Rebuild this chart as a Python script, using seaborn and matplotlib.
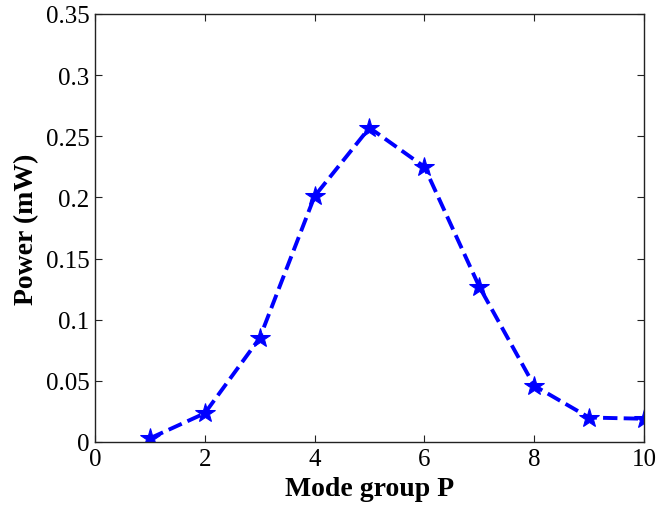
import pandas as pd
import numpy as np
import seaborn as sns
import matplotlib.pyplot as plt

# data
mode_group = [1, 2, 3, 4, 5, 6, 7, 8, 9, 10]
power_mw = [0.003, 0.0235, 0.085, 0.201, 0.257, 0.225, 0.127, 0.046, 0.020, 0.019]
x_ticks = [0, 2, 4, 6, 8, 10]
y_ticks = [0, 0.05, 0.1, 0.15, 0.2, 0.25, 0.3, 0.35]
y_ticklabels = ["0", "0.05", "0.1", "0.15", "0.2", "0.25", "0.3", "0.35"]

df = pd.DataFrame({"P": mode_group, "Power": power_mw})

sns.set_theme(style="ticks")
plt.rcParams['font.family'] = ['Liberation Serif', 'DejaVu Serif']
plt.rcParams['xtick.direction'] = 'in'
plt.rcParams['ytick.direction'] = 'in'

fig = plt.figure(figsize=(6.58, 5.10), dpi=100)
axs = fig.add_axes([0.1444, 0.1314, 0.8343, 0.8392])

sns.lineplot(data=df, x="P", y="Power", ax=axs, color="#0000ff",
             linestyle="--", linewidth=2.8, marker="*", markersize=15,
             markeredgecolor="#0000ff", markerfacecolor="#0000ff")

axs.set_xlim(0, 10)
axs.set_ylim(0, 0.35)
axs.set_xticks(x_ticks)
axs.set_yticks(y_ticks)
axs.set_yticklabels(y_ticklabels)
axs.tick_params(labelsize=18, length=5, width=0.8, pad=4, top=True, right=True,
                colors="#222222", labelcolor="black")
for s in axs.spines.values():
    s.set_visible(True)
    s.set_linewidth(1.0)
    s.set_color("#222222")

axs.set_xlabel("Mode group P", fontsize=20, fontweight="bold", labelpad=5, color="black")
axs.set_ylabel("Power (mW)", fontsize=20, fontweight="bold", labelpad=5, color="black")

fig.savefig("out.png", dpi=100)
